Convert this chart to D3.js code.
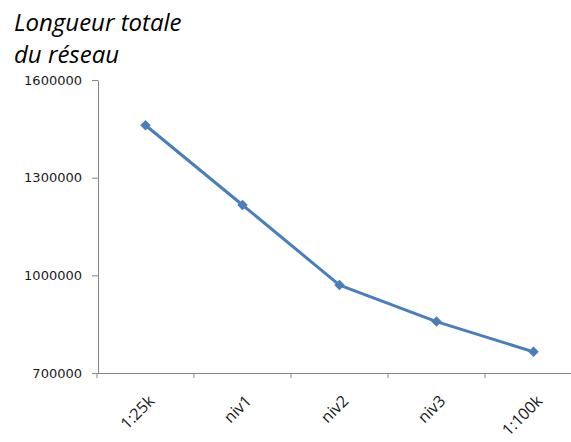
<!DOCTYPE html>
<html>
<head>
<meta charset="utf-8">
<script src="https://cdn.jsdelivr.net/npm/d3@7"></script>
<style>
  html, body { margin: 0; padding: 0; background: #fff; }
  svg { display: block; }
</style>
</head>
<body>
<svg id="chart" width="571" height="442"></svg>
<script>
// Network length per generalisation level
const categories = ["1:25k", "niv1", "niv2", "niv3", "1:100k"];
const lengths = [1461000, 1216000, 970000, 858000, 765000];
const yTicks = [700000, 1000000, 1300000, 1600000];
const titleLines = ["Longueur totale", "du réseau"];

const svg = d3.select("#chart");
const axisColor = "#868686";
const lineColor = "#4A7EBB";

const x = d3.scaleBand().domain(categories).range([97, 582]);
const y = d3.scaleLinear().domain([700000, 1600000]).range([373, 80]);

// Title
const title = svg.append("text")
  .attr("font-family", "Open Sans, sans-serif")
  .attr("font-style", "italic")
  .attr("font-size", 24)
  .attr("fill", "#000");
title.selectAll("tspan").data(titleLines).join("tspan")
  .attr("x", 14)
  .attr("y", (d, i) => 31 + i * 32)
  .text(d => d);

// Y axis
const yAxis = svg.append("g")
  .attr("transform", "translate(98,0)")
  .call(d3.axisLeft(y).tickValues(yTicks).tickFormat(d3.format("d")).tickSize(6).tickSizeOuter(0));
yAxis.select(".domain").attr("stroke", axisColor);
yAxis.selectAll(".tick line").attr("stroke", axisColor);
yAxis.selectAll(".tick text")
  .attr("x", -16)
  .attr("font-family", "DejaVu Sans, sans-serif")
  .attr("font-size", 13)
  .attr("fill", "#1a1a1a");

// X axis
const xAxis = svg.append("g")
  .attr("transform", "translate(0,373)")
  .call(d3.axisBottom(x).tickSize(0).tickSizeOuter(0));
xAxis.select(".domain").attr("stroke", axisColor);
xAxis.selectAll(".tick line").remove();
// category boundary ticks
const bounds = categories.map(c => x(c));
xAxis.selectAll(".bound").data(bounds).join("line")
  .attr("class", "bound")
  .attr("x1", d => d).attr("x2", d => d)
  .attr("y1", 0).attr("y2", 5)
  .attr("stroke", axisColor);
xAxis.selectAll(".tick text")
  .attr("font-family", "Open Sans, sans-serif")
  .attr("font-size", 16)
  .attr("fill", "#1a1a1a")
  .attr("text-anchor", "end")
  .attr("y", 0)
  .attr("dy", 0)
  .attr("transform", "translate(10,29) rotate(-45)");

// Line
const cx = d => x(d) + x.bandwidth() / 2;
const pts = categories.map((c, i) => [cx(c), y(lengths[i])]);
svg.append("path")
  .datum(pts)
  .attr("d", d3.line())
  .attr("fill", "none")
  .attr("stroke", lineColor)
  .attr("stroke-width", 3)
  .attr("stroke-linejoin", "round");

// Diamond markers
svg.selectAll(".marker").data(pts).join("path")
  .attr("class", "marker")
  .attr("d", d3.symbol(d3.symbolDiamond2, 70))
  .attr("transform", d => `translate(${d[0]},${d[1]})`)
  .attr("fill", lineColor);
</script>
</body>
</html>
